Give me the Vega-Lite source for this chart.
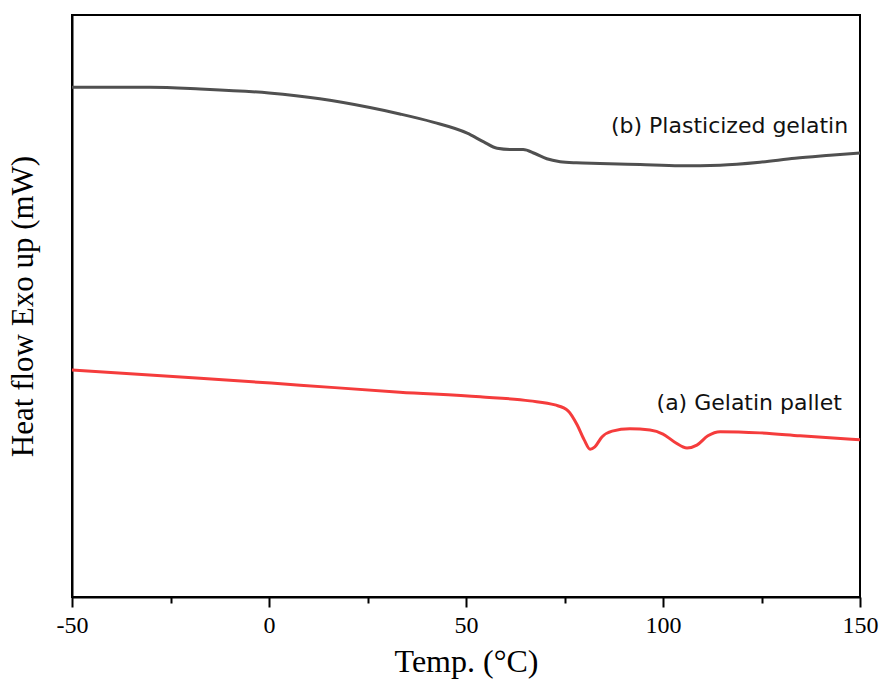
{
  "$schema": "https://vega.github.io/schema/vega-lite/v6.json",
  "autosize": {"type": "none"},
  "padding": {"left": 72, "top": 15, "right": 22, "bottom": 91},
  "width": 788,
  "height": 582,
  "background": "white",
  "config": {
    "view": {"stroke": "#000000", "strokeWidth": 2},
    "axis": {"domainColor": "#000000", "domainWidth": 2, "tickColor": "#000000", "tickWidth": 2, "grid": false,
      "labelFont": "Liberation Serif", "titleFont": "Liberation Serif", "labelColor": "#000000", "titleColor": "#000000"}
  },
  "datasets": {
    "curves": [
      {"series": "b", "temp": -50, "hf": 87.6},
      {"series": "b", "temp": -30.2, "hf": 87.6},
      {"series": "b", "temp": -17.5, "hf": 87.3},
      {"series": "b", "temp": 0, "hf": 86.6},
      {"series": "b", "temp": 12.9, "hf": 85.6},
      {"series": "b", "temp": 25.6, "hf": 84.1},
      {"series": "b", "temp": 33.2, "hf": 83.0},
      {"series": "b", "temp": 41.6, "hf": 81.6},
      {"series": "b", "temp": 50.3, "hf": 79.7},
      {"series": "b", "temp": 54.5, "hf": 78.2},
      {"series": "b", "temp": 57.9, "hf": 77.1},
      {"series": "b", "temp": 61.2, "hf": 76.9},
      {"series": "b", "temp": 64.5, "hf": 76.9},
      {"series": "b", "temp": 67.5, "hf": 76.2},
      {"series": "b", "temp": 70.5, "hf": 75.3},
      {"series": "b", "temp": 73.9, "hf": 74.8},
      {"series": "b", "temp": 78, "hf": 74.6},
      {"series": "b", "temp": 84, "hf": 74.5},
      {"series": "b", "temp": 94.2, "hf": 74.3},
      {"series": "b", "temp": 104.3, "hf": 74.1},
      {"series": "b", "temp": 114.5, "hf": 74.2},
      {"series": "b", "temp": 124.6, "hf": 74.7},
      {"series": "b", "temp": 133.5, "hf": 75.4},
      {"series": "b", "temp": 142.4, "hf": 75.9},
      {"series": "b", "temp": 150, "hf": 76.3},
      {"series": "a", "temp": -50, "hf": 39.0},
      {"series": "a", "temp": -17.5, "hf": 37.6},
      {"series": "a", "temp": 7.9, "hf": 36.4},
      {"series": "a", "temp": 33.2, "hf": 35.2},
      {"series": "a", "temp": 53.6, "hf": 34.4},
      {"series": "a", "temp": 66.2, "hf": 33.7},
      {"series": "a", "temp": 72.6, "hf": 33.0},
      {"series": "a", "temp": 75.9, "hf": 32.0},
      {"series": "a", "temp": 78.2, "hf": 29.6},
      {"series": "a", "temp": 80.0, "hf": 27.0},
      {"series": "a", "temp": 81.5, "hf": 25.4},
      {"series": "a", "temp": 82.7, "hf": 25.8},
      {"series": "a", "temp": 84.5, "hf": 27.5},
      {"series": "a", "temp": 87.1, "hf": 28.5},
      {"series": "a", "temp": 91.6, "hf": 28.9},
      {"series": "a", "temp": 96.7, "hf": 28.7},
      {"series": "a", "temp": 100, "hf": 28.0},
      {"series": "a", "temp": 103, "hf": 26.6},
      {"series": "a", "temp": 106.1, "hf": 25.6},
      {"series": "a", "temp": 108.6, "hf": 26.1},
      {"series": "a", "temp": 111.4, "hf": 27.7},
      {"series": "a", "temp": 114.5, "hf": 28.4},
      {"series": "a", "temp": 124.6, "hf": 28.2},
      {"series": "a", "temp": 134.8, "hf": 27.7},
      {"series": "a", "temp": 150, "hf": 27.0}
    ],
    "labels": [
      {"temp": 147, "hf": 80.9, "label": "(b) Plasticized gelatin"},
      {"temp": 145.4, "hf": 33.3, "label": "(a) Gelatin pallet"}
    ]
  },
  "resolve": {"axis": {"x": "independent"}},
  "layer": [
    {
      "data": {"name": "curves"},
      "mark": {"type": "line", "strokeWidth": 3, "interpolate": "monotone"},
      "encoding": {
        "x": {"field": "temp", "type": "quantitative", "scale": {"domain": [-50, 150], "nice": false},
          "axis": {"values": [-50, 0, 50, 100, 150], "tickSize": 10, "labelFontSize": 24, "labelPadding": 6,
            "labelFlush": false, "labelExpr": "replace(datum.label, '−', '-')",
            "title": "Temp. (°C)", "titleFontSize": 32, "titleFontWeight": "normal", "titlePadding": 9}},
        "y": {"field": "hf", "type": "quantitative", "scale": {"domain": [0, 100], "nice": false},
          "axis": {"labels": false, "ticks": false, "title": "Heat flow Exo up (mW)", "titleFontSize": 31,
            "titleFontWeight": "normal", "titlePadding": 33}},
        "color": {"field": "series", "type": "nominal", "scale": {"domain": ["a", "b"], "range": ["#f53c3c", "#505050"]}, "legend": null},
        "detail": {"field": "series"}
      }
    },
    {
      "data": {"name": "labels"},
      "mark": {"type": "text", "align": "right", "baseline": "middle", "font": "DejaVu Sans", "fontSize": 22, "color": "#111111"},
      "encoding": {
        "x": {"field": "temp", "type": "quantitative",
          "axis": {"orient": "bottom", "values": [-25, 25, 75, 125], "tickSize": 6, "labels": false, "domain": false, "title": null}},
        "y": {"field": "hf", "type": "quantitative"},
        "text": {"field": "label"}
      }
    }
  ]
}
